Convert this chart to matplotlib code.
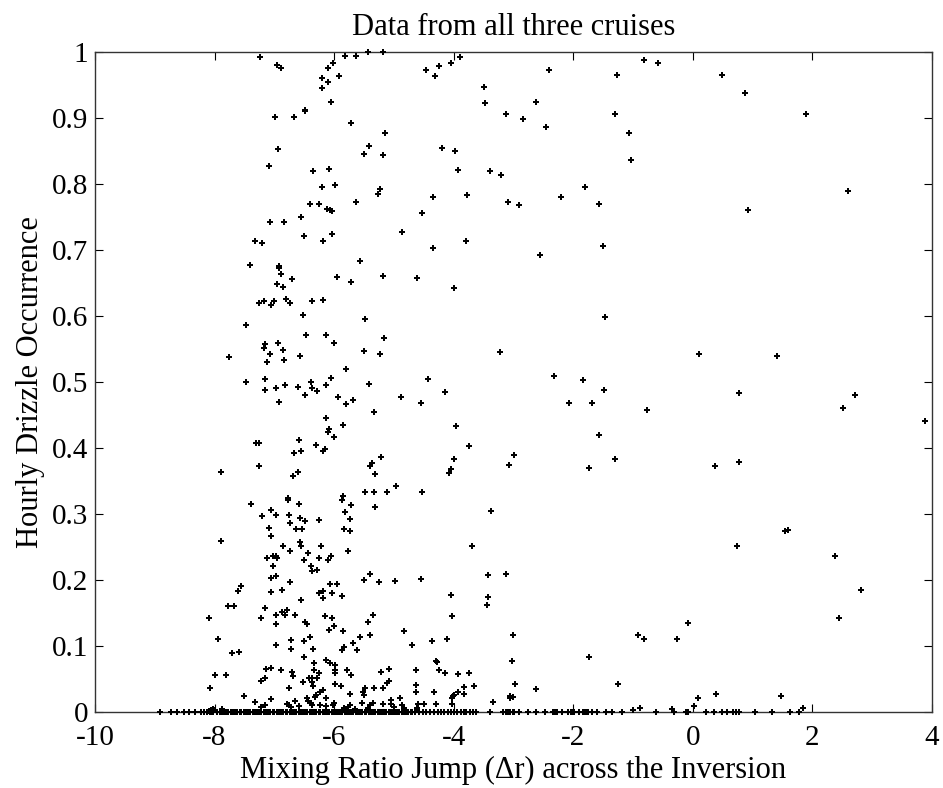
import matplotlib
matplotlib.use("Agg")
import matplotlib.pyplot as plt

# ----------------------------
# DATA
# ----------------------------
# points with occurrence above ~0.33
dr_upper = [
    -7.24, -6.96, -6.89, -6.02, -6.11, -5.81, -5.63, -5.43, -5.19, -5.92, -6.20, -6.11, -6.21, -6.06,
    -6.49, -6.49, -6.995, -6.67, -5.72, -5.15, -6.94, -5.41, -5.50, -5.18, -7.09, -6.35, -6.08, -5.98,
    -6.21, -5.24, -5.27, -6.41, -6.25, -6.12, -6.07, -6.04, -5.63, -6.55, -7.07, -6.83, -6.50, -6.04,
    -6.18, -7.32, -7.21, -7.41, -6.92, -6.92, -5.57, -4.47, -4.31, -4.24, -4.04, -3.89, -4.20, -3.98,
    -3.93, -3.77, -4.35, -4.53, -4.86, -4.34, -3.80,
    -6.88, -6.71, -6.96, -6.85, -5.95, -5.71, -5.18, -4.61, -3.99, -7.26, -7.18, -7.06, -7.00, -6.81,
    -6.73, -6.37, -6.19, -6.52, -5.48, -7.48, -6.47, -6.14, -5.17, -7.15, -6.94, -7.18, -6.85, -6.01,
    -7.75, -7.07, -7.13, -6.83, -6.57, -5.50, -5.24, -5.80, -7.47, -7.15, -7.15, -6.98, -6.82, -6.93,
    -6.60, -6.49, -6.38, -6.37, -6.29, -6.13, -6.05, -5.93, -5.80, -5.69, -5.41, -4.43, -4.88, -4.55,
    -4.14, -5.33, -6.13, -6.08, -6.11, -6.00, -5.85, -3.96, -3.74, -7.31, -7.26, -6.58, -6.67, -6.55,
    -6.31, -6.19, -6.15, -7.26, -7.90, -6.68, -6.61, -5.36, -5.40, -5.21, -5.32, -4.96, -3.99, -4.05,
    -4.08,
    -2.40, -1.27, -0.82, -0.58, 0.49, 0.87, -3.49, -3.48, -2.62, -3.13, -2.84, -2.46, -1.31, -1.07,
    -1.04, 1.89, -3.39, -3.21, -3.09, -2.91, -2.20, -1.80, -1.57, 2.59, 0.93, -1.51, -2.56, -1.47,
    -3.22, 0.10, 1.41, -2.32, -1.83, -1.49, -2.07, -1.69, -0.76, 0.77, 2.52, 2.72, 3.88, -1.57,
    -3.07, -2.99, -1.73, -1.30, 0.37, 0.78,
]
occ_upper = [
    0.992, 0.980, 0.976, 0.984, 0.976, 0.994, 0.994, 1.0, 1.0, 0.964, 0.961, 0.954, 0.945, 0.924,
    0.912, 0.910, 0.902, 0.901, 0.893, 0.878, 0.853, 0.857, 0.846, 0.844, 0.828, 0.819, 0.822, 0.799,
    0.795, 0.793, 0.785, 0.770, 0.770, 0.762, 0.760, 0.759, 0.772, 0.750, 0.742, 0.742, 0.721, 0.725,
    0.714, 0.713, 0.710, 0.678, 0.676, 0.673, 0.683, 0.972, 0.964, 0.979, 0.984, 0.992, 0.855, 0.850,
    0.821, 0.783, 0.780, 0.756, 0.727, 0.703, 0.713,
    0.664, 0.656, 0.648, 0.644, 0.659, 0.652, 0.661, 0.657, 0.642, 0.619, 0.622, 0.616, 0.623, 0.626,
    0.620, 0.622, 0.624, 0.601, 0.596, 0.587, 0.571, 0.571, 0.566, 0.558, 0.559, 0.551, 0.548, 0.559,
    0.538, 0.542, 0.531, 0.534, 0.540, 0.547, 0.542, 0.519, 0.500, 0.504, 0.488, 0.491, 0.496, 0.470,
    0.492, 0.481, 0.500, 0.491, 0.486, 0.496, 0.506, 0.478, 0.466, 0.473, 0.497, 0.504, 0.477, 0.468,
    0.485, 0.455, 0.445, 0.429, 0.424, 0.417, 0.435, 0.433, 0.403, 0.407, 0.407, 0.412, 0.392, 0.395,
    0.405, 0.395, 0.398, 0.373, 0.364, 0.357, 0.364, 0.378, 0.373, 0.387, 0.361, 0.342, 0.383, 0.368,
    0.362,
    0.972, 0.965, 0.988, 0.984, 0.965, 0.938, 0.947, 0.922, 0.924, 0.906, 0.898, 0.887, 0.906, 0.878,
    0.836, 0.906, 0.819, 0.813, 0.773, 0.768, 0.780, 0.795, 0.769, 0.789, 0.760, 0.706, 0.692, 0.598,
    0.545, 0.542, 0.540, 0.509, 0.503, 0.488, 0.468, 0.468, 0.457, 0.484, 0.461, 0.481, 0.441, 0.420,
    0.375, 0.390, 0.369, 0.384, 0.373, 0.379,
]

# points with occurrence between 0 and ~0.33
dr_lower = [
    -7.39, -6.77, -6.77, -6.59, -5.85, -5.87, -5.48, -5.33, -5.12, -4.53, -5.32, -5.71, -7.20, -7.06,
    -6.97, -6.76, -6.74, -6.57, -6.49, -6.64, -6.53, -6.25, -7.09, -7.05, -5.82, -5.73, -5.83, -5.74,
    -7.90, -6.85, -6.73, -6.57, -6.56, -6.43, -6.22, -5.76, -7.12, -7.03, -6.98, -6.95, -7.02, -6.50,
    -6.38, -6.37, -6.28, -6.25, -6.10, -6.05, -7.05, -6.98, -6.74, -7.06, -6.87, -6.55, -6.26, -6.18,
    -6.19, -6.07, -5.95, -6.03, -5.86, -7.55, -7.61, -7.78, -7.68, -8.09, -7.95, -7.70, -7.59, -7.99,
    -7.80, -8.07, -7.15, -7.22, -6.98, -6.87, -6.82, -6.78, -6.97, -6.65, -6.48, -6.46, -6.41, -6.72,
    -6.72, -6.97, -6.50, -6.36, -6.50, -6.34, -6.33, -6.15, -6.04, -6.01, -6.09, -5.85, -5.86, -5.83,
    -5.68, -5.62, -5.56, -5.50, -5.40, -5.25, -4.98, -4.55, -5.43, -5.35, -5.40, -4.83, -4.70, -4.36,
    -4.11, -4.05, -4.03, -3.69, -4.30, -4.28, -4.25, -4.14, -3.92, -3.74, -3.83, -3.66, -3.83, -4.33,
    -4.63, -4.63, -4.63, -5.08, -5.21, -5.19, -5.12, -5.09, -5.33, -5.48, -5.52, -5.50, -5.53, -5.79,
    -5.72, -5.98, -5.98, -5.98, -6.13, -6.07, -5.98, -5.89, -5.74, -6.13, -6.26, -6.29, -6.37, -6.42,
    -6.35, -6.37, -6.23, -6.18, -6.30, -6.32, -6.46, -6.43, -6.39, -6.37, -6.52, -6.71, -6.69, -6.88,
    -7.14, -7.05, -7.22, -7.15, -6.76, -7.06, -7.50, -7.33, -7.22, -7.15, -6.78, -6.75, -6.72, -6.65,
    -6.58, -6.24, -6.13, -6.02, -6.00, -5.83, -5.76, -5.73, -5.65, -5.44, -5.40, -5.35, -5.19, -5.05,
    -5.05, -5.00, -4.90, -4.87, -4.83, -4.61, -4.59, -4.49, -4.29, -4.03, -4.02, -4.01, -3.99, -3.92,
    -7.87, -8.10, -8.06, -8.03, -8.00,
    -3.38, 1.54, 1.59, 0.74, -3.43, -3.12, 2.37, -3.43, -3.45, 2.82, -3.00, -3.03, -1.73, -0.91,
    -0.81, -0.27, -0.08, 2.44, -2.97, -2.62, -1.25, -3.06, -3.06, -3.00, -3.35, 0.08, 0.38, 1.48,
    0.02, -1.00, -0.89, -0.35, 1.85,
]
occ_lower = [
    0.315, 0.324, 0.322, 0.315, 0.327, 0.322, 0.334, 0.333, 0.334, 0.333, 0.311, 0.313, 0.297, 0.306,
    0.298, 0.298, 0.286, 0.294, 0.289, 0.278, 0.277, 0.291, 0.279, 0.267, 0.303, 0.293, 0.277, 0.275,
    0.259, 0.251, 0.244, 0.257, 0.251, 0.241, 0.251, 0.244, 0.233, 0.236, 0.237, 0.234, 0.221, 0.230,
    0.221, 0.213, 0.215, 0.233, 0.230, 0.236, 0.203, 0.206, 0.197, 0.182, 0.185, 0.169, 0.180, 0.184,
    0.173, 0.194, 0.194, 0.180, 0.176, 0.191, 0.184, 0.161, 0.161, 0.142, 0.111, 0.090, 0.091, 0.056,
    0.056, 0.037, 0.157, 0.142, 0.147, 0.151, 0.147, 0.154, 0.133, 0.147, 0.137, 0.134, 0.114, 0.109,
    0.095, 0.102, 0.108, 0.095, 0.083, 0.075, 0.063, 0.146, 0.142, 0.131, 0.124, 0.123, 0.094, 0.099,
    0.104, 0.094, 0.113, 0.200, 0.209, 0.197, 0.199, 0.202, 0.136, 0.147, 0.116, 0.123, 0.102, 0.107,
    0.110, 0.177, 0.145, 0.251, 0.078, 0.076, 0.063, 0.059, 0.057, 0.059, 0.038, 0.039, 0.028, 0.030,
    0.063, 0.041, 0.031, 0.065, 0.060, 0.036, 0.044, 0.047, 0.036, 0.037, 0.031, 0.026, 0.013, 0.063,
    0.056, 0.071, 0.063, 0.059, 0.079, 0.075, 0.042, 0.039, 0.027, 0.021, 0.059, 0.052, 0.052, 0.052,
    0.039, 0.046, 0.031, 0.033, 0.026, 0.023, 0.021, 0.017, 0.013, 0.010, 0.046, 0.061, 0.055, 0.063,
    0.065, 0.067, 0.047, 0.052, 0.036, 0.019, 0.024, 0.015, 0.008, 0.010, 0.012, 0.010, 0.008, 0.017,
    0.009, 0.010, 0.009, 0.010, 0.013, 0.006, 0.008, 0.010, 0.005, 0.006, 0.010, 0.013, 0.012, 0.018,
    0.012, 0.008, 0.022, 0.010, 0.006, 0.006, 0.012, 0.012, 0.012, 0.021, 0.012, 0.024, 0.026, 0.031,
    0.005, 0.002, 0.003, 0.004, 0.003,
    0.304, 0.275, 0.276, 0.252, 0.207, 0.209, 0.236, 0.174, 0.162, 0.185, 0.117, 0.077, 0.083, 0.116,
    0.111, 0.111, 0.135, 0.142, 0.042, 0.035, 0.043, 0.021, 0.024, 0.023, 0.015, 0.022, 0.028, 0.024,
    0.0096, 0.0035, 0.006, 0.004, 0.0066,
]

# hours with no drizzle at all (sit on the x axis)
dr_zero = [
    -8.92, -8.73, -8.62, -8.51, -8.42, -8.32, -8.23, -8.17, -8.12, -8.08, -8.05, -8.02,
    -7.96, -7.91, -7.88, -7.84, -7.80, -7.77, -7.73, -7.69, -7.66, -7.62, -7.58, -7.55, -7.51, -7.47,
    -7.44, -7.40, -7.36, -7.33, -7.29, -7.25, -7.22, -7.18, -7.14, -7.11, -7.07, -7.03, -7.00, -6.96,
    -6.92, -6.89, -6.85, -6.81, -6.78, -6.74, -6.70, -6.67, -6.63, -6.59, -6.56, -6.52, -6.48, -6.45,
    -6.41, -6.37, -6.34, -6.30, -6.26, -6.23, -6.19, -6.15, -6.12, -6.08, -6.04, -6.01, -5.97, -5.93,
    -5.90, -5.86, -5.82, -5.79, -5.75, -5.71, -5.68, -5.64, -5.60, -5.57, -5.53, -5.49, -5.46, -5.42,
    -5.38, -5.35, -5.31, -5.27, -5.24, -5.20, -5.16, -5.13, -5.09, -5.05, -5.02, -4.98, -4.94, -4.91,
    -4.87, -4.83, -4.80, -4.76, -4.72, -4.69, -4.65, -4.58, -4.51, -4.46, -4.40, -4.33, -4.27, -4.22,
    -4.16, -4.10, -4.05, -4.00, -3.94, -3.88, -3.83, -3.79,
    -3.73, -3.67, -3.63, -3.39, -3.17, -3.13, -3.09, -3.05, -3.01, -2.99, -2.90, -2.76, -2.62, -2.47,
    -2.34, -2.30, -2.27, -2.18, -2.08, -2.04, -2.01, -1.98, -1.90, -1.84, -1.82, -1.80, -1.78, -1.75,
    -1.68, -1.60, -1.45, -1.35, -1.18, -0.62, -0.32, -0.12, -0.08, 0.22, 0.36, 0.49, 0.57, 0.67,
    0.72, 0.77, 1.04, 1.33, 1.62, 1.78,
]
occ_zero = [0.0] * len(dr_zero)

x_ticks = [-10, -8, -6, -4, -2, 0, 2, 4]
x_tick_labels = ["-10", "-8", "-6", "-4", "-2", "0", "2", "4"]
y_ticks = [0, 0.1, 0.2, 0.3, 0.4, 0.5, 0.6, 0.7, 0.8, 0.9, 1]
y_tick_labels = ["0", "0.1", "0.2", "0.3", "0.4", "0.5", "0.6", "0.7", "0.8", "0.9", "1"]

# ----------------------------
# PLOT
# ----------------------------
plt.rcParams['font.family'] = ['Liberation Serif', 'DejaVu Serif']

fig = plt.figure(figsize=(9.43, 7.88), dpi=100)
ax = fig.add_axes([0.1007, 0.0964, 0.8876, 0.8376])

for xs, ys in [(dr_upper, occ_upper), (dr_lower, occ_lower), (dr_zero, occ_zero)]:
    ax.plot(xs, ys, linestyle="none", marker="P", markersize=4, color="k",
            markeredgewidth=0, clip_on=False, zorder=3)

ax.set_xlim(-10, 4)
ax.set_ylim(0, 1)
ax.set_xticks(x_ticks)
ax.set_xticklabels(x_tick_labels)
ax.set_yticks(y_ticks)
ax.set_yticklabels(y_tick_labels)

ax.tick_params(direction="in", length=6, width=0.8, top=True, right=True,
               labelsize=21, colors="k")
ax.tick_params(axis="x", pad=9)
ax.tick_params(axis="y", pad=5)
for s in ax.spines.values():
    s.set_linewidth(1.0)
    s.set_color("#333333")

ax.set_title("Data from all three cruises", fontsize=22, pad=12)
ax.set_xlabel("Mixing Ratio Jump (\u0394r) across the Inversion", fontsize=22, labelpad=4)
ax.set_ylabel("Hourly Drizzle Occurrence", fontsize=22, labelpad=5)

fig.savefig("out.png", dpi=100)
